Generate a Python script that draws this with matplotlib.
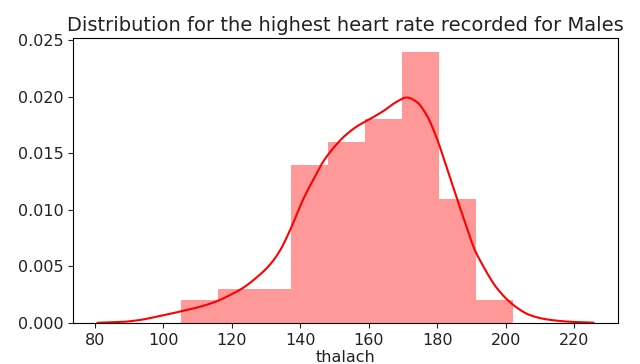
import matplotlib
matplotlib.use("Agg")
import matplotlib.pyplot as plt
import numpy as np

bin_edges = [105.0, 115.8, 126.6, 137.3, 148.1, 158.9, 169.7, 180.4, 191.2, 202.0]
bin_heights = [0.002, 0.003, 0.003, 0.014, 0.016, 0.018, 0.024, 0.011, 0.002]

kde_x = [80.8, 88.1, 93.0, 97.9, 104.7, 110.6, 115.4, 119.3, 123.2, 127.1, 130.0, 132.0,
         134.2, 137.1, 140.9, 143.8, 146.7, 149.7, 152.6, 156.4, 160.3, 164.2, 168.1,
         171.0, 173.9, 176.8, 179.8, 182.7, 185.8, 188.6, 190.7, 193.4, 197.3, 202.2,
         207.0, 211.9, 218.7, 225.5]
kde_y = [0.00002, 0.0001, 0.00026, 0.00055, 0.001, 0.00143, 0.0019, 0.00245, 0.0031,
         0.0040, 0.0048, 0.0055, 0.0065, 0.0083, 0.0110, 0.0127, 0.0143, 0.0155,
         0.01645, 0.01737, 0.01804, 0.01874, 0.01956, 0.01994, 0.01956, 0.0184, 0.01634,
         0.01371, 0.0109, 0.0084, 0.0066, 0.0050, 0.0031, 0.00158, 0.0007, 0.00032,
         0.00011, 0.00003]


def pchip(x, y, xs):
    x = np.asarray(x, float)
    y = np.asarray(y, float)
    h = np.diff(x)
    d = np.diff(y) / h
    m = np.zeros_like(y)
    for i in range(1, len(x) - 1):
        if d[i - 1] * d[i] > 0:
            w1 = 2 * h[i] + h[i - 1]
            w2 = h[i] + 2 * h[i - 1]
            m[i] = (w1 + w2) / (w1 / d[i - 1] + w2 / d[i])
    m[0] = d[0]
    m[-1] = d[-1]
    idx = np.clip(np.searchsorted(x, xs) - 1, 0, len(x) - 2)
    t = (xs - x[idx]) / h[idx]
    h00 = 2 * t**3 - 3 * t**2 + 1
    h10 = t**3 - 2 * t**2 + t
    h01 = -2 * t**3 + 3 * t**2
    h11 = t**3 - t**2
    return h00 * y[idx] + h10 * h[idx] * m[idx] + h01 * y[idx + 1] + h11 * h[idx] * m[idx + 1]


fig = plt.figure(figsize=(6.4, 3.64), dpi=100)
ax = fig.add_axes([73/640, 1-323/364, (618-73)/640, (323-38)/364])

left = np.array(bin_edges[:-1])
widths = np.diff(bin_edges)
ax.bar(left, bin_heights, width=widths, align='edge', color='red', alpha=0.4, linewidth=0)

xs = np.linspace(kde_x[0], kde_x[-1], 600)
ax.plot(xs, pchip(kde_x, kde_y, xs), color='red', lw=1.5)

ax.set_xticks([80, 100, 120, 140, 160, 180, 200, 220])
ax.set_yticks([0.0, 0.005, 0.010, 0.015, 0.020, 0.025])
ax.set_yticklabels(['0.000', '0.005', '0.010', '0.015', '0.020', '0.025'])
ax.set_xlim(73.6, 232.7)
ax.set_ylim(0, 0.0252)
ax.tick_params(labelsize=11.5, colors='#222222', labelcolor='#222222')
ax.set_xlabel('thalach', fontsize=11.5, labelpad=2, color='#222222')
ax.set_title('Distribution for the highest heart rate recorded for Males',
             fontsize=14, color='#222222', pad=5)

fig.savefig('out.png', dpi=100)
